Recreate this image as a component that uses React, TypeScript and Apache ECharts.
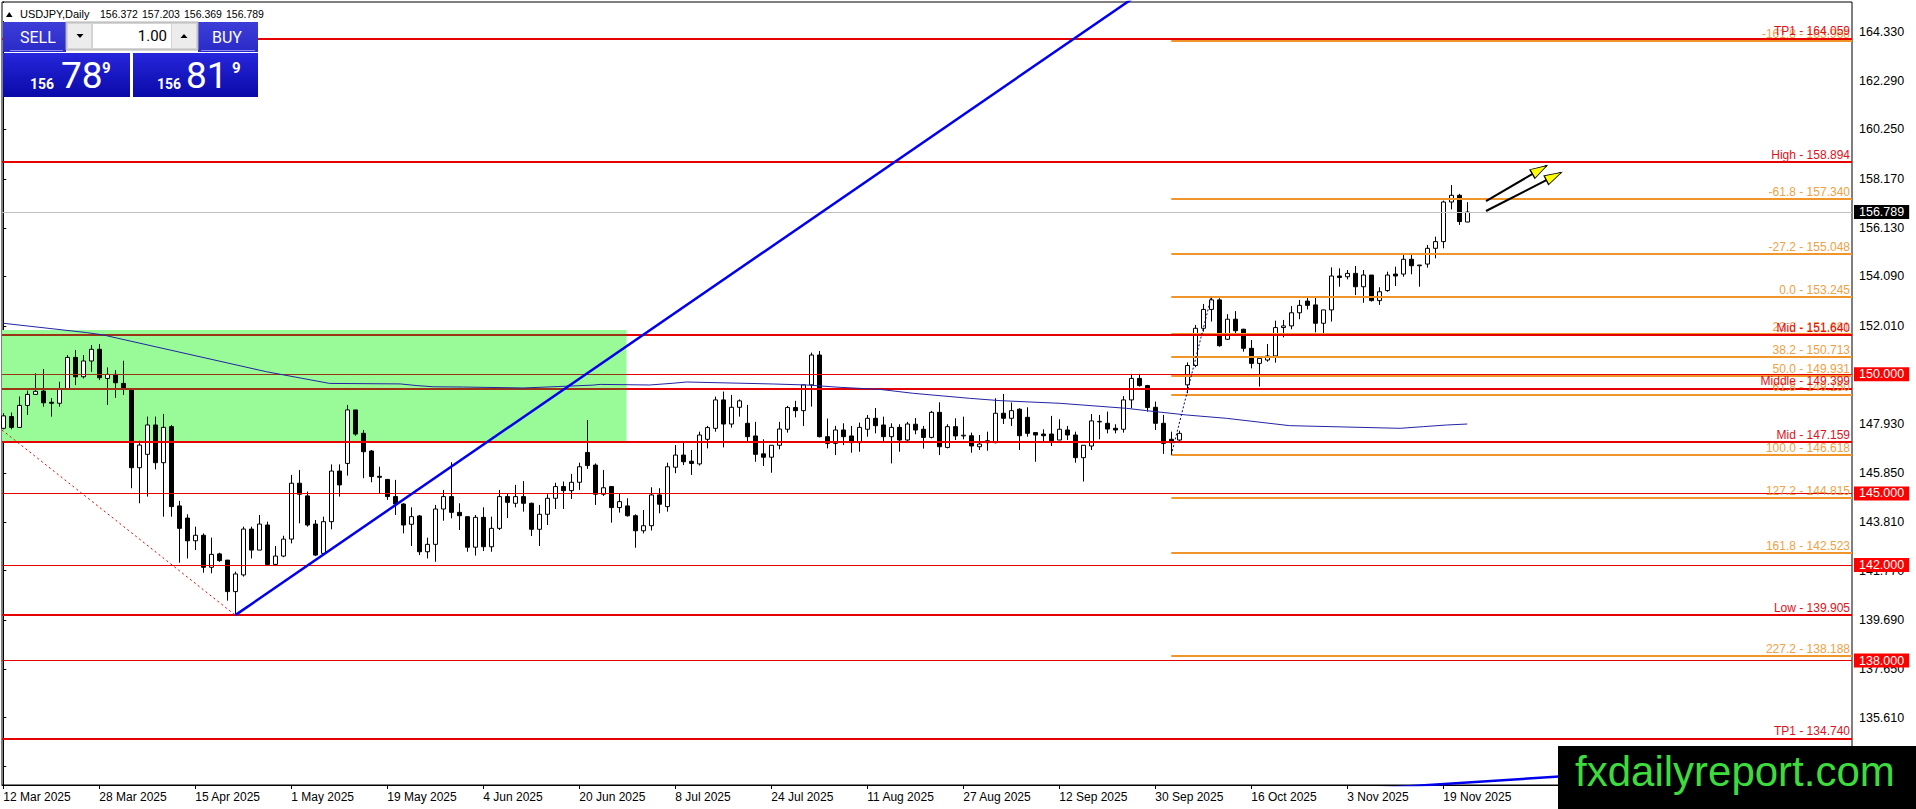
import React, { useEffect, useRef } from "react";
import * as echarts from "echarts";

const FONT = "'Liberation Sans', Arial, sans-serif";

// x positions are bar indices (0 = 12 Mar 2025, one bar per trading day)
const xTickIndex = [0, 12, 24, 36, 48, 60, 72, 84, 96, 108, 120, 132, 144, 156, 168, 180];
const xTickLabels = [
  "12 Mar 2025", "28 Mar 2025", "15 Apr 2025", "1 May 2025", "19 May 2025", "4 Jun 2025",
  "20 Jun 2025", "8 Jul 2025", "24 Jul 2025", "11 Aug 2025", "27 Aug 2025", "12 Sep 2025",
  "30 Sep 2025", "16 Oct 2025", "3 Nov 2025", "19 Nov 2025",
];
const yTickValues = [
  133.57, 135.61, 137.65, 139.69, 141.77, 143.81, 145.85, 147.93, 149.97, 152.01, 154.09,
  156.13, 158.17, 160.25, 162.29, 164.33,
];

// [open, close, low, high]
const ohlc: number[][] = [
  [147.73, 148.25, 147.69, 148.36], [148.22, 147.77, 147.69, 148.39], [147.77, 148.69, 147.77, 149.06],
  [148.69, 149.15, 148.29, 149.31], [149.15, 149.28, 149.15, 150.03], [149.29, 148.80, 148.64, 150.21],
  [148.82, 148.78, 148.22, 148.99], [148.78, 149.38, 148.64, 149.68], [149.38, 150.70, 149.37, 150.80],
  [150.70, 149.89, 149.54, 151.01], [149.89, 150.55, 149.82, 150.80], [150.55, 151.04, 150.10, 151.22],
  [151.04, 149.85, 149.75, 151.26], [149.82, 149.99, 148.71, 150.28], [149.99, 149.64, 149.01, 150.17],
  [149.61, 149.36, 149.13, 150.56], [149.34, 146.08, 145.22, 149.36], [146.08, 147.03, 144.59, 147.21],
  [146.64, 147.87, 144.87, 148.22], [147.87, 146.29, 146.01, 148.22], [146.29, 147.77, 144.03, 148.33],
  [147.80, 144.45, 144.03, 147.87], [144.48, 143.54, 142.10, 144.69], [143.97, 143.02, 142.28, 144.13],
  [143.02, 143.25, 142.63, 143.61], [143.25, 141.91, 141.68, 143.33], [141.91, 142.45, 141.66, 143.15],
  [142.47, 142.19, 142.14, 142.52], [142.21, 140.89, 140.51, 142.21], [140.89, 141.63, 139.905, 141.73],
  [141.59, 143.51, 141.52, 143.61], [143.51, 142.63, 142.28, 143.61], [142.63, 143.72, 142.63, 144.10],
  [143.68, 142.03, 142.03, 143.82], [142.03, 142.38, 142.00, 142.80], [142.38, 143.09, 142.33, 143.23],
  [143.09, 145.43, 142.91, 145.78], [145.43, 144.97, 143.75, 145.98], [144.90, 143.68, 143.61, 145.08],
  [143.72, 142.42, 142.38, 143.89], [142.49, 143.82, 142.49, 144.03], [143.82, 145.94, 143.50, 146.22],
  [145.94, 145.36, 144.87, 146.22], [146.26, 148.50, 145.75, 148.71], [148.50, 147.49, 147.42, 148.50],
  [147.52, 146.75, 145.64, 147.66], [146.78, 145.71, 145.47, 146.82], [145.72, 145.68, 144.98, 146.12],
  [145.59, 144.87, 144.73, 145.59], [144.87, 144.56, 144.10, 145.57], [144.56, 143.68, 143.33, 144.59],
  [143.71, 144.03, 142.80, 144.42], [144.06, 142.56, 142.42, 144.10], [142.56, 142.87, 142.28, 143.15],
  [142.87, 144.35, 142.14, 144.52], [144.35, 144.87, 143.86, 145.15], [144.87, 144.21, 143.96, 146.31],
  [144.21, 144.07, 143.47, 144.59], [144.03, 142.75, 142.56, 144.03], [142.75, 144.00, 142.40, 144.10],
  [144.00, 142.77, 142.59, 144.42], [142.77, 143.54, 142.56, 144.03], [143.54, 144.87, 143.47, 145.15],
  [144.87, 144.63, 143.97, 145.01], [144.59, 144.87, 144.42, 145.36], [144.87, 144.59, 144.24, 145.52],
  [144.59, 143.50, 143.22, 144.62], [143.50, 144.13, 142.80, 144.52], [144.13, 144.80, 143.68, 144.97],
  [144.80, 145.29, 144.35, 145.45], [145.29, 145.12, 144.35, 145.50], [145.12, 145.47, 144.77, 145.82],
  [145.47, 146.12, 145.15, 146.29], [146.72, 146.17, 146.03, 148.08], [146.19, 144.97, 144.52, 146.26],
  [144.97, 145.24, 144.90, 145.98], [145.29, 144.41, 143.78, 145.31], [144.41, 144.66, 144.20, 144.98],
  [144.48, 144.07, 144.03, 144.80], [144.07, 143.44, 142.73, 144.13], [143.44, 143.65, 143.33, 144.31],
  [143.65, 144.94, 143.45, 145.26], [144.94, 144.55, 144.17, 145.22], [144.45, 146.12, 144.24, 146.29],
  [146.10, 146.61, 145.85, 147.03], [146.61, 146.33, 146.19, 147.17], [146.35, 146.26, 145.78, 146.82],
  [146.24, 147.45, 146.17, 147.59], [147.27, 147.76, 146.89, 147.83], [147.73, 148.92, 147.59, 149.06],
  [148.92, 147.91, 146.93, 149.27], [147.91, 148.61, 147.76, 149.13], [148.61, 148.88, 148.22, 148.94],
  [147.94, 147.38, 147.14, 148.71], [147.41, 146.64, 146.33, 148.00], [146.66, 146.52, 146.15, 147.27],
  [146.52, 147.02, 145.87, 147.02], [147.02, 147.70, 146.85, 148.00], [147.69, 148.60, 147.55, 148.67],
  [148.60, 148.47, 148.19, 148.88], [148.47, 149.55, 147.83, 149.55], [149.55, 150.80, 148.64, 150.90],
  [150.80, 147.38, 147.35, 150.97], [147.38, 147.10, 146.89, 148.14], [147.10, 147.66, 146.61, 147.83],
  [147.66, 147.38, 147.03, 147.94], [147.41, 147.13, 146.71, 147.83], [147.13, 147.77, 146.75, 147.97],
  [147.69, 148.15, 147.38, 148.29], [148.15, 147.84, 147.52, 148.58], [147.87, 147.38, 147.13, 148.22],
  [147.38, 147.77, 146.26, 147.94], [147.77, 147.24, 146.75, 147.90], [147.24, 147.91, 147.13, 148.00],
  [147.90, 147.66, 147.48, 148.16], [147.69, 147.35, 146.88, 147.83], [147.35, 148.40, 147.31, 148.46],
  [148.40, 146.96, 146.61, 148.82], [146.93, 147.80, 146.89, 147.90], [147.80, 147.41, 147.24, 148.15],
  [147.41, 147.44, 147.27, 148.22], [147.42, 146.99, 146.71, 147.55], [146.96, 147.07, 146.82, 147.45],
  [147.13, 147.21, 146.79, 147.59], [147.13, 148.36, 147.10, 148.99], [148.36, 148.15, 147.91, 149.17],
  [148.15, 148.47, 147.83, 148.81], [148.53, 147.42, 146.82, 148.57], [148.19, 147.52, 147.38, 148.61],
  [147.55, 147.45, 146.33, 147.55], [147.49, 147.42, 147.13, 147.69], [147.49, 147.21, 146.99, 148.25],
  [147.24, 147.69, 147.24, 148.11], [147.66, 147.45, 147.24, 147.83], [147.45, 146.50, 146.29, 147.59],
  [146.50, 147.02, 145.50, 147.02], [146.99, 148.04, 146.82, 148.33], [148.00, 148.02, 147.27, 148.29],
  [147.94, 147.70, 147.52, 148.43], [147.73, 147.66, 147.52, 147.90], [147.69, 148.92, 147.55, 149.08],
  [148.92, 149.82, 148.57, 150.01], [149.82, 149.52, 149.48, 150.01], [149.52, 148.60, 148.43, 149.55],
  [148.61, 147.94, 147.66, 148.85], [147.94, 147.10, 146.66, 148.29], [147.27, 147.13, 146.618, 147.59],
  [147.24, 147.52, 147.18, 147.63], [149.55, 150.36, 149.20, 150.49], [150.36, 151.92, 150.29, 152.06],
  [151.92, 152.71, 151.78, 152.94], [152.71, 153.11, 152.20, 153.245], [153.11, 151.19, 151.15, 153.18],
  [151.46, 152.30, 151.43, 152.51], [152.30, 151.82, 151.61, 152.64], [151.88, 151.08, 150.94, 151.90],
  [151.08, 150.45, 150.24, 151.43], [150.45, 150.66, 149.48, 150.66], [150.59, 150.76, 150.52, 151.26],
  [150.76, 151.95, 150.48, 152.24], [151.95, 152.02, 151.54, 152.27], [152.02, 152.57, 151.88, 152.85],
  [152.57, 152.88, 152.30, 153.11], [153.06, 152.88, 152.71, 153.25], [152.90, 152.13, 151.75, 153.27],
  [152.13, 152.69, 151.60, 152.69], [152.69, 154.11, 152.20, 154.47], [154.11, 154.05, 153.66, 154.43],
  [154.08, 154.22, 153.97, 154.36], [154.22, 153.66, 153.31, 154.53], [153.66, 154.15, 152.99, 154.36],
  [154.15, 153.08, 153.04, 154.15], [153.08, 153.45, 152.90, 153.64], [153.50, 154.15, 153.45, 154.29],
  [154.19, 154.11, 153.69, 154.50], [154.19, 154.81, 154.08, 155.03], [154.81, 154.54, 154.18, 155.03],
  [154.54, 154.57, 153.66, 154.57], [154.61, 155.27, 154.46, 155.41], [155.27, 155.55, 154.85, 155.76],
  [155.55, 157.21, 155.27, 157.27], [157.21, 157.49, 156.90, 157.92], [157.49, 156.39, 156.25, 157.55],
  [156.372, 156.789, 156.369, 157.203],
];

// moving average, read at [bar index, price]
const maPoints: number[][] = [
  [0, 152.13], [10.4, 151.74], [12.5, 151.64], [32.9, 150.10], [40.8, 149.61], [49.6, 149.59],
  [51.7, 149.52], [53.75, 149.47], [57.5, 149.46], [65, 149.42], [73.75, 149.54], [74.6, 149.57],
  [80.8, 149.545], [83.6, 149.615], [85.4, 149.67], [96.25, 149.587], [100.4, 149.545],
  [104.6, 149.447], [109.6, 149.36], [113.75, 149.196], [120.8, 148.986], [124.6, 148.889],
  [132.1, 148.777], [140.4, 148.567], [142.9, 148.47], [147.9, 148.288], [152.9, 148.149],
  [160.8, 147.841], [174.6, 147.73], [177.5, 147.80], [180.4, 147.869], [183, 147.91],
];

const trendLine = [[29, 139.905], [150, 167.77]];
const lowerTrendLine = [[170, 132.615], [231.0875, 133.93]];
const redDashLine = [[-0.16, 147.66], [29, 139.905]];
const fibAnchorLine = [[146, 146.618], [151, 153.245]];
const arrowLines = [
  [[185.34, 157.251], [192.93, 158.73]],
  [[185.34, 156.833], [194.71, 158.437]],
];
const arrowHeads = [
  { pos: [192.06, 158.562], rot: -59.8 },
  { pos: [193.83, 158.286], rot: -62.9 },
];

const redLevelNames = ["TP1", "High", "Mid", "Middle", "Mid", "Low", "TP1"];
const redLevelValues = [164.059, 158.894, 151.64, 149.399, 147.159, 139.905, 134.74];
const fibRatios = [-161.8, -61.8, -27.2, 0.0, 23.6, 38.2, 50.0, 61.8, 100.0, 127.2, 161.8, 227.2];
const fibValues = [163.968, 157.34, 155.048, 153.245, 151.681, 150.713, 149.931, 149.15, 146.618, 144.815, 142.523, 138.188];
const fibStart = 146;
const roundLevels = [150.0, 145.0, 142.0, 138.0];
const bidPrice = 156.789;
const zoneTop = 151.85;
const zoneBottom = 147.159;
const zoneEnd = 77.9;
const headerValues = ["156.372", "157.203", "156.369", "156.789"];

export default function App() {
  const ref = useRef<HTMLDivElement>(null);

  useEffect(() => {
    const chart = echarts.init(ref.current!, null, { renderer: "svg" });
    const xMin = -0.1625;
    const xMax = 231.0875;
    const yMin = 132.79;
    const yMax = 165.587;

    const RED = "#e60000";
    const RED_TXT = "#e0101a";
    const ORANGE = "#f0952a";
    const ORANGE_TXT = "#efa144";
    const BROWN = "#9a3412";

    const lines: any[] = [];
    // round-number thin red lines with axis boxes
    roundLevels.forEach((v) => {
      lines.push({
        yAxis: v,
        lineStyle: { color: RED, width: 1, type: "solid" },
        label: {
          show: true, position: "end", distance: 2, formatter: v.toFixed(3),
          color: "#fff", backgroundColor: "#ff0000", padding: [1, 5, 0, 5],
          fontSize: 12.5, fontFamily: FONT,
        },
      });
    });
    // bid line
    lines.push({
      yAxis: bidPrice,
      lineStyle: { color: "#c0c0c0", width: 1, type: "solid" },
      label: {
        show: true, position: "end", distance: 2, formatter: bidPrice.toFixed(3),
        color: "#fff", backgroundColor: "#000", padding: [1, 5, 0, 5],
        fontSize: 12.5, fontFamily: FONT,
      },
    });
    // fibonacci levels
    fibRatios.forEach((r, k) => {
      const v = fibValues[k];
      lines.push([
        {
          coord: [fibStart, v],
          lineStyle: { color: ORANGE, width: 2, type: "solid" },
          label: {
            show: true, position: "insideEndTop", distance: [2, 1],
            formatter: `${r.toFixed(1)} - ${v.toFixed(3)}`,
            color: ORANGE_TXT, fontSize: 12, fontFamily: FONT,
          },
        },
        { coord: [xMax, v] },
      ]);
    });
    // red labelled levels
    redLevelValues.forEach((v, k) => {
      lines.push({
        yAxis: v,
        lineStyle: { color: RED, width: 2, type: "solid" },
        label: {
          show: true, position: "insideEndTop", distance: [2, 1],
          formatter: `${redLevelNames[k]} - ${v.toFixed(3)}`,
          color: RED_TXT, fontSize: 12, fontFamily: FONT,
        },
      });
    });
    // darker tint of the lines inside the green zone
    [[151.64, 2], [149.399, 2], [150.0, 1]].forEach(([v, w]) => {
      lines.push([
        { coord: [xMin, v], lineStyle: { color: BROWN, width: w, type: "solid" }, label: { show: false } },
        { coord: [zoneEnd, v] },
      ]);
    });

    const lineSeries = (data: number[][], color: string, width: number, type: any = "solid", z = 4) => ({
      type: "line", data, symbol: "none", silent: true, z,
      lineStyle: { color, width, type }, clip: true, animation: false,
    });

    const gLin = (c1: string, c2: string) =>
      new echarts.graphic.LinearGradient(0, 0, 0, 1, [
        { offset: 0, color: c1 }, { offset: 1, color: c2 },
      ]);

    const txt = (x: number, y: number, text: string, size: number, fill: string, extra: any = {}) => ({
      type: "text", x, y, z: 101,
      style: {
        text, fill, fontSize: size, fontFamily: extra.family || FONT,
        fontWeight: extra.weight || "normal", align: extra.align || "left", verticalAlign: "middle",
      },
    });

    const graphic: any[] = [
      // header
      { type: "rect", z: 100, shape: { x: 3, y: 3, width: 270, height: 18 }, style: { fill: "#fff" } },
      { type: "polygon", z: 101, shape: { points: [[6, 17], [12.5, 17], [9.25, 12]] }, style: { fill: "#000" } },
      txt(20, 14, "USDJPY,Daily", 11, "#000"),
      ...headerValues.map((v, k) => txt(100 + k * 42, 14, v, 10.5, "#000")),
      // top buttons
      { type: "rect", z: 100, shape: { x: 3, y: 22, width: 63, height: 30 }, style: { fill: gLin("#3d3dd8", "#2a2ac8") } },
      { type: "rect", z: 100, shape: { x: 198, y: 22, width: 60, height: 30 }, style: { fill: gLin("#3d3dd8", "#2a2ac8") } },
      { type: "line", z: 101, shape: { x1: 10, y1: 50.5, x2: 63, y2: 50.5 }, style: { stroke: "#8c8cf0", lineWidth: 1 } },
      { type: "line", z: 101, shape: { x1: 201, y1: 50.5, x2: 255, y2: 50.5 }, style: { stroke: "#8c8cf0", lineWidth: 1 } },
      txt(20, 37, "SELL", 16, "#fff", { family: "Roboto, " + FONT }),
      txt(212, 37, "BUY", 16, "#fff", { family: "Roboto, " + FONT }),
      // spinner
      { type: "rect", z: 100, shape: { x: 66, y: 22, width: 132, height: 28 }, style: { fill: "#d4d4d4", stroke: "#b0b0b0", lineWidth: 1 } },
      { type: "rect", z: 101, shape: { x: 68, y: 24, width: 23, height: 24 }, style: { fill: "#ececec" } },
      { type: "rect", z: 101, shape: { x: 93, y: 24, width: 78, height: 24 }, style: { fill: "#ffffff" } },
      { type: "rect", z: 101, shape: { x: 172, y: 24, width: 24, height: 24 }, style: { fill: "#ececec" } },
      { type: "polygon", z: 102, shape: { points: [[76.5, 34], [83.5, 34], [80, 38]] }, style: { fill: "#000" } },
      { type: "polygon", z: 102, shape: { points: [[180.5, 38], [187.5, 38], [184, 34]] }, style: { fill: "#000" } },
      txt(167, 36, "1.00", 15, "#000", { align: "right", family: "Roboto, " + FONT }),
      // price boxes
      { type: "rect", z: 100, shape: { x: 3, y: 53, width: 127, height: 44 }, style: { fill: gLin("#2626dc", "#0a0aa8") } },
      { type: "rect", z: 100, shape: { x: 133, y: 53, width: 125, height: 44 }, style: { fill: gLin("#2626dc", "#0a0aa8") } },
      txt(30, 84, "156", 14, "#fff", { weight: "bold", family: "Roboto, " + FONT }),
      txt(61, 75.5, "78", 37, "#fff", { family: "Roboto, " + FONT }),
      txt(102, 67.5, "9", 15, "#fff", { weight: "bold", family: "Roboto, " + FONT }),
      txt(157, 84, "156", 14, "#fff", { weight: "bold", family: "Roboto, " + FONT }),
      txt(186, 75.5, "81", 37, "#fff", { family: "Roboto, " + FONT }),
      txt(232, 67.5, "9", 15, "#fff", { weight: "bold", family: "Roboto, " + FONT }),
      // logo
      { type: "rect", z: 100, shape: { x: 1558, y: 746, width: 358, height: 63 }, style: { fill: "#000" } },
      txt(1575, 771.5, "fxdailyreport.com", 42, "#3ddc3d"),
    ];

    const option: any = {
      animation: false,
      backgroundColor: "#ffffff",
      grid: {
        left: 2, right: 64, top: 2, bottom: 24, show: true,
        borderColor: "#000", borderWidth: 1, backgroundColor: "transparent",
      },
      xAxis: {
        type: "value", min: xMin, max: xMax, position: "bottom",
        axisLine: { show: true, onZero: false, lineStyle: { color: "#000", width: 1 } },
        axisTick: { show: true, customValues: xTickIndex, length: 4, lineStyle: { color: "#000" } },
        axisLabel: {
          show: true, customValues: xTickIndex,
          formatter: (v: number) => {
            const k = xTickIndex.indexOf(Math.round(v));
            return k >= 0 ? xTickLabels[k] : "";
          },
          align: "left", margin: 6, color: "#000", fontSize: 12, fontFamily: FONT,
        },
        splitLine: { show: false },
      },
      yAxis: {
        type: "value", min: yMin, max: yMax, position: "right",
        axisLine: { show: true, lineStyle: { color: "#000", width: 1 } },
        axisTick: { show: true, customValues: yTickValues, length: 3, lineStyle: { color: "#000" } },
        axisLabel: {
          show: true, customValues: yTickValues,
          formatter: (v: number) => v.toFixed(3),
          margin: 7, color: "#000", fontSize: 12.5, fontFamily: FONT,
        },
        splitLine: { show: false },
      },
      series: [
        {
          type: "candlestick",
          name: "USDJPY",
          data: ohlc.map((r, i) => [i, r[0], r[1], r[2], r[3]]),
          encode: { x: 0, y: [1, 2, 3, 4] },
          barWidth: 5,
          z: 2,
          silent: true,
          itemStyle: {
            color: "#ffffff", color0: "#000000",
            borderColor: "#000000", borderColor0: "#000000", borderColorDoji: "#000000",
            borderWidth: 1,
          },
          markArea: {
            silent: true, z: 1,
            itemStyle: { color: "#98fb98", opacity: 1 },
            label: { show: false },
            data: [[{ coord: [xMin, zoneTop] }, { coord: [zoneEnd, zoneBottom] }]],
          },
          markLine: {
            silent: true, symbol: ["none", "none"], animation: false, z: 3,
            emphasis: { disabled: true },
            data: lines,
          },
        },
        lineSeries(maPoints, "#2323a6", 1, "solid", 4),
        lineSeries(redDashLine, "#e00000", 1, [2, 3], 4),
        lineSeries(fibAnchorLine, "#000080", 1, [2, 2], 4),
        lineSeries(trendLine, "#0000ee", 2.5, "solid", 5),
        lineSeries(lowerTrendLine, "#0000ee", 2.5, "solid", 5),
        lineSeries(arrowLines[0], "#000000", 2, "solid", 6),
        lineSeries(arrowLines[1], "#000000", 2, "solid", 6),
        {
          type: "scatter", z: 7, silent: true,
          symbol: "triangle", symbolSize: [10, 17],
          itemStyle: { color: "#ffff00", borderColor: "#000", borderWidth: 1, opacity: 1 },
          data: arrowHeads.map((a) => ({ value: a.pos, symbolRotate: a.rot })),
        },
      ],
      graphic,
    };

    chart.setOption(option);
    return () => chart.dispose();
  }, []);

  return (
    <div
      ref={ref}
      style={{ position: "fixed", left: 0, top: 0, width: "1916px", height: "809px" }}
    />
  );
}
